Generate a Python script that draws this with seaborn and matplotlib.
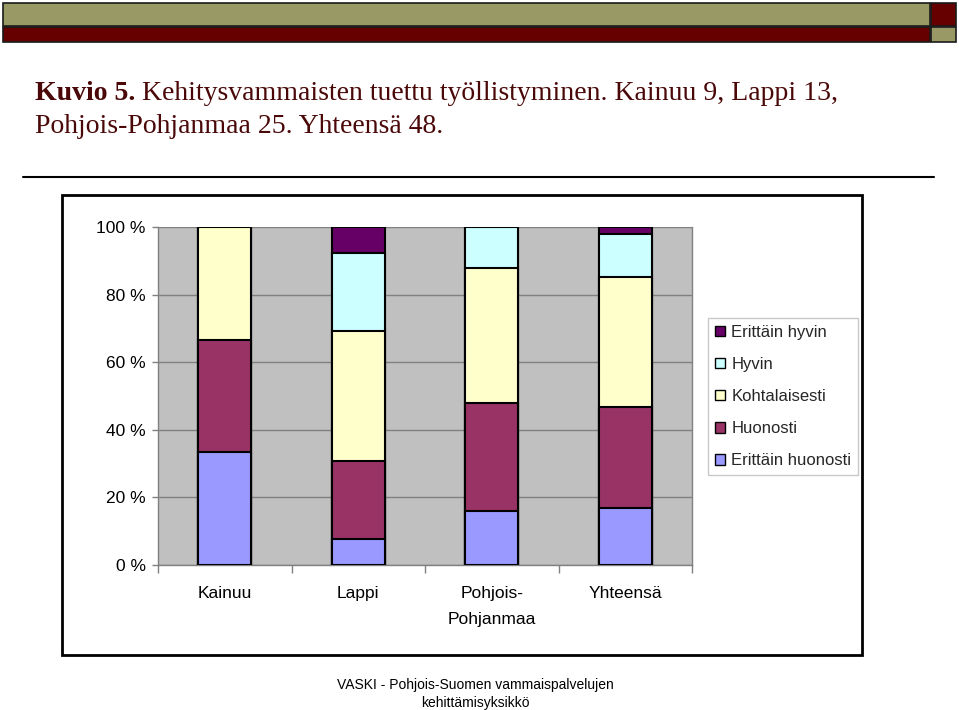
import matplotlib
matplotlib.use("Agg")
import matplotlib.pyplot as plt
import seaborn as sns
import pandas as pd
import numpy as np
from matplotlib.patches import Rectangle, Patch
from matplotlib.lines import Line2D

# ---- data (percent of respondents) ----
categories = ["Kainuu", "Lappi", "Pohjois-\nPohjanmaa", "Yhteensä"]
erittain_huonosti = [33.3, 7.7, 16.0, 17.0]
huonosti = [33.3, 23.1, 32.0, 29.8]
kohtalaisesti = [33.4, 38.4, 40.0, 38.3]
hyvin = [0.0, 23.1, 12.0, 12.8]
erittain_hyvin = [0.0, 7.7, 0.0, 2.1]

series_names = ["Erittäin huonosti", "Huonosti", "Kohtalaisesti", "Hyvin", "Erittäin hyvin"]
series_vals = [erittain_huonosti, huonosti, kohtalaisesti, hyvin, erittain_hyvin]
series_colors = ["#9999FF", "#993366", "#FFFFCC", "#CCFFFF", "#660066"]
yticks = [0, 20, 40, 60, 80, 100]
ytick_labels = ["0 %", "20 %", "40 %", "60 %", "80 %", "100 %"]

title_bold = "Kuvio 5."
title_rest = " Kehitysvammaisten tuettu työllistyminen. Kainuu 9, Lappi 13,"
title_line2 = "Pohjois-Pohjanmaa 25. Yhteensä 48."
footer = "VASKI - Pohjois-Suomen vammaispalvelujen\nkehittämisyksikkö"

sns.set_theme(style="white")
plt.rcParams["font.family"] = ["Liberation Sans", "DejaVu Sans"]

W, H = 959, 710
fig = plt.figure(figsize=(W / 100, H / 100), dpi=100)
fig.patch.set_facecolor("white")

def fx(x):
    return x / W

def fy(y):
    return 1 - y / H

# ---- decorative header stripes ----
olive = "#999966"
darkred = "#660000"
for (x0, y0, x1, y1, c) in [(3, 3, 930, 26, olive), (931, 3, 956, 26, darkred),
                            (3, 27, 930, 42, darkred), (931, 27, 956, 42, olive)]:
    fig.add_artist(Rectangle((fx(x0), fy(y1)), fx(x1 - x0), (y1 - y0) / H,
                             facecolor=c, edgecolor="#1a1a1a", lw=1.2,
                             transform=fig.transFigure))

# ---- title ----
tcol = "#4a0808"
tsize = 20.0
t1 = fig.text(fx(35), fy(100), title_bold, fontsize=tsize, fontweight="bold",
              family="Liberation Serif", color=tcol, va="baseline", ha="left")
fig.canvas.draw()
bb = t1.get_window_extent()
fig.text(bb.x1 / W, fy(100), title_rest, fontsize=tsize, family="Liberation Serif",
         color=tcol, va="baseline", ha="left")
fig.text(fx(35), fy(133), title_line2, fontsize=tsize, family="Liberation Serif",
         color=tcol, va="baseline", ha="left")

# separator line
fig.add_artist(Line2D([fx(23), fx(934)], [fy(177), fy(177)], color="black", lw=1.5,
                      transform=fig.transFigure))

# chart frame
fig.add_artist(Rectangle((fx(62), fy(655)), fx(862 - 62), (655 - 195) / H,
                         facecolor="white", edgecolor="black", lw=2,
                         transform=fig.transFigure, zorder=0))

# ---- plot ----
ax = fig.add_axes([fx(158), fy(565), fx(692 - 158), (565 - 227) / H])
ax.set_facecolor("#C0C0C0")

cum = np.zeros(len(categories))
cums = []
for vals in series_vals:
    cum = cum + np.array(vals)
    cums.append(cum.copy())

# draw from the top layer down so each layer overlays the next one
for name, c, col in reversed(list(zip(series_names, cums, series_colors))):
    d = pd.DataFrame({"Alue": categories, "val": np.minimum(c, 100)})
    sns.barplot(data=d, x="Alue", y="val", color=col, width=0.40, ax=ax,
                edgecolor="black", linewidth=1.5, saturation=1, zorder=3)

ax.set_ylim(0, 100)
ax.set_xlim(-0.5, len(categories) - 0.5)
ax.set_yticks(yticks)
ax.set_yticklabels(ytick_labels, fontsize=12.5, color="black")
ax.yaxis.grid(True, color="#808080", lw=1)
ax.set_axisbelow(True)
ax.set_xlabel("")
ax.set_ylabel("")
ax.set_xticks(range(len(categories)))
ax.set_xticklabels(categories, fontsize=12.5, color="black", linespacing=1.9)
ax.tick_params(axis="x", length=0, pad=15)
ax.tick_params(axis="y", length=4, width=1, color="#808080", pad=5, left=True)
ax.set_xticks(np.arange(-0.5, len(categories)), minor=True)
ax.tick_params(axis="x", which="minor", length=6, width=1, color="#808080", bottom=True)
for s in ["top", "right", "left", "bottom"]:
    ax.spines[s].set_visible(True)
    ax.spines[s].set_color("#808080")
    ax.spines[s].set_linewidth(1)
ax.spines["top"].set_visible(False)

# ---- legend ----
handles = [Patch(facecolor=c, edgecolor="black", lw=1, label=n)
           for n, c in reversed(list(zip(series_names, series_colors)))]
leg = fig.legend(handles=handles, loc="upper left",
                 bbox_to_anchor=(fx(708), fy(318)), fontsize=12,
                 frameon=True, fancybox=False, edgecolor="#BBBBBB",
                 handlelength=0.6, handleheight=0.6, handletextpad=0.4,
                 labelspacing=1.03, borderpad=0.4, borderaxespad=0)
leg.get_frame().set_linewidth(1)

# ---- footer ----
fig.text(fx(475), fy(694), footer, fontsize=10, ha="center", va="center",
         color="black", linespacing=1.35)

fig.savefig("out.png", dpi=100)
